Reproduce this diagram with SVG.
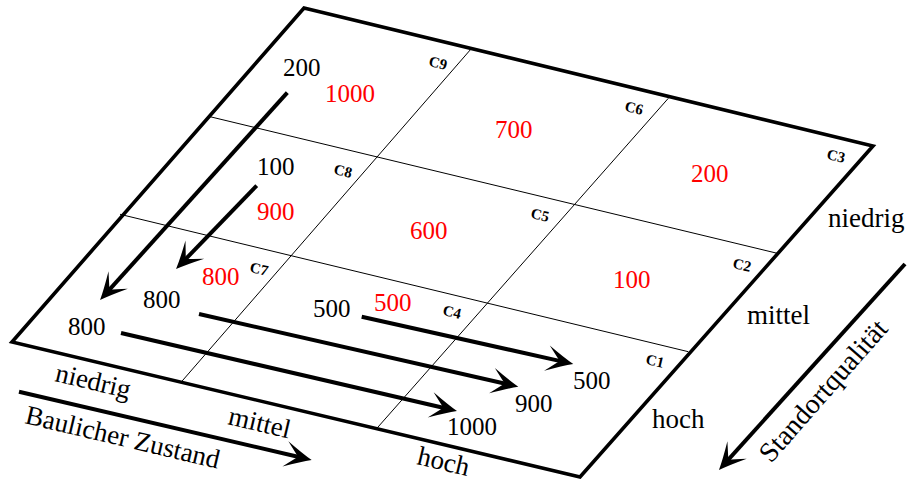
<svg xmlns="http://www.w3.org/2000/svg" width="913" height="484" viewBox="0 0 913 484">
  <style>
    .frame { fill: none; stroke: #000; stroke-width: 3.6; stroke-linejoin: miter; }
    .grid { fill: none; stroke: #000; stroke-width: 1; }
    .arrow { fill: none; stroke: #000; stroke-width: 4; stroke-linecap: butt; marker-end: url(#head); }
    text { font-family: "Liberation Serif", "Times New Roman", serif; fill: #000; }
    .num { font-size: 25px; }
    .red { fill: #ff0000; }
    .word { font-size: 27px; }
    .cell { font-size: 15px; font-weight: bold; text-anchor: middle; }
  </style>
  <defs>
    <!-- curved, swept-back arrowhead; tip sits 12 units past the line end -->
    <marker id="head" markerUnits="userSpaceOnUse" orient="auto" refX="-12" refY="0"
            markerWidth="40" markerHeight="40" overflow="visible">
      <path d="M0,0 Q-10,-4 -27,-13 Q-18,-4 -14,0 Q-18,4 -27,13 Q-10,4 0,0 Z" fill="#000"/>
    </marker>
  </defs>

  <!-- outer plane -->
  <g id="plane">
    <polygon class="frame" points="304,8 873,146 580,477 12,342"/>
  </g>

  <!-- 3x3 grid -->
  <g id="grid">
    <line class="grid" x1="120" y1="214.3" x2="688.3" y2="351.7"/>
    <line class="grid" x1="210" y1="116.7" x2="777.3" y2="253.3"/>
    <line class="grid" x1="181.7" y1="381.5" x2="471" y2="49"/>
    <line class="grid" x1="376.7" y1="428.5" x2="668.3" y2="98.3"/>
  </g>

  <!-- transition arrows and axis arrows -->
  <g id="connectors">
    <line class="arrow" x1="287.3" y1="92.7" x2="108.1" y2="291.1"/>
    <line class="arrow" x1="256.7" y1="185.7" x2="184.4" y2="260.4"/>
    <line class="arrow" x1="121" y1="333" x2="445.3" y2="408.3"/>
    <line class="arrow" x1="199" y1="314" x2="506.6" y2="384"/>
    <line class="arrow" x1="361.7" y1="316.7" x2="561.6" y2="361.4"/>
    <line class="arrow" x1="19" y1="391.7" x2="300" y2="457.3"/>
    <line class="arrow" x1="905" y1="264" x2="727" y2="461.1"/>
  </g>

  <!-- cell labels -->
  <g id="cells">
    <g id="c9" transform="translate(438,63) rotate(13.3)"><text class="cell" x="0" y="5">C9</text></g>
    <g id="c6" transform="translate(634,108) rotate(13.3)"><text class="cell" x="0" y="5">C6</text></g>
    <g id="c3" transform="translate(836,156) rotate(13.3)"><text class="cell" x="0" y="5">C3</text></g>
    <g id="c8" transform="translate(343,171) rotate(13.3)"><text class="cell" x="0" y="5">C8</text></g>
    <g id="c5" transform="translate(540,215) rotate(13.3)"><text class="cell" x="0" y="5">C5</text></g>
    <g id="c2" transform="translate(742,265) rotate(13.3)"><text class="cell" x="0" y="5">C2</text></g>
    <g id="c7" transform="translate(259,269) rotate(13.3)"><text class="cell" x="0" y="5">C7</text></g>
    <g id="c4" transform="translate(452,312) rotate(13.3)"><text class="cell" x="0" y="5">C4</text></g>
    <g id="c1" transform="translate(655,361) rotate(13.3)"><text class="cell" x="0" y="5">C1</text></g>
  </g>

  <!-- cell values -->
  <g id="values">
    <text class="num red" x="325" y="102">1000</text>
    <text class="num red" x="495" y="138">700</text>
    <text class="num red" x="691" y="182">200</text>
    <text class="num red" x="257" y="220">900</text>
    <text class="num red" x="410" y="239">600</text>
    <text class="num red" x="613" y="288">100</text>
    <text class="num red" x="202" y="285">800</text>
    <text class="num red" x="374" y="311">500</text>
  </g>

  <!-- arrow end values -->
  <g id="flows">
    <text class="num" x="283" y="76">200</text>
    <text class="num" x="257" y="175">100</text>
    <text class="num" x="143" y="308">800</text>
    <text class="num" x="68" y="335">800</text>
    <text class="num" x="313" y="317">500</text>
    <text class="num" x="573" y="389">500</text>
    <text class="num" x="515" y="412">900</text>
    <text class="num" x="447" y="435">1000</text>
  </g>

  <!-- axis labels -->
  <g id="axis-quality">
    <text class="word" x="828" y="227">niedrig</text>
    <text class="word" x="747" y="324">mittel</text>
    <text class="word" x="652" y="428">hoch</text>
    <text class="word" style="font-size:28px" transform="translate(771,464) rotate(-48.7)">Standortqualität</text>
  </g>
  <g id="axis-condition">
    <text class="word" transform="translate(54,381) rotate(13.3)">niedrig</text>
    <text class="word" transform="translate(227,424) rotate(13.3)">mittel</text>
    <text class="word" transform="translate(416,464) rotate(13.3)">hoch</text>
    <text class="word" transform="translate(24,423) rotate(13.3)">Baulicher Zustand</text>
  </g>
</svg>
